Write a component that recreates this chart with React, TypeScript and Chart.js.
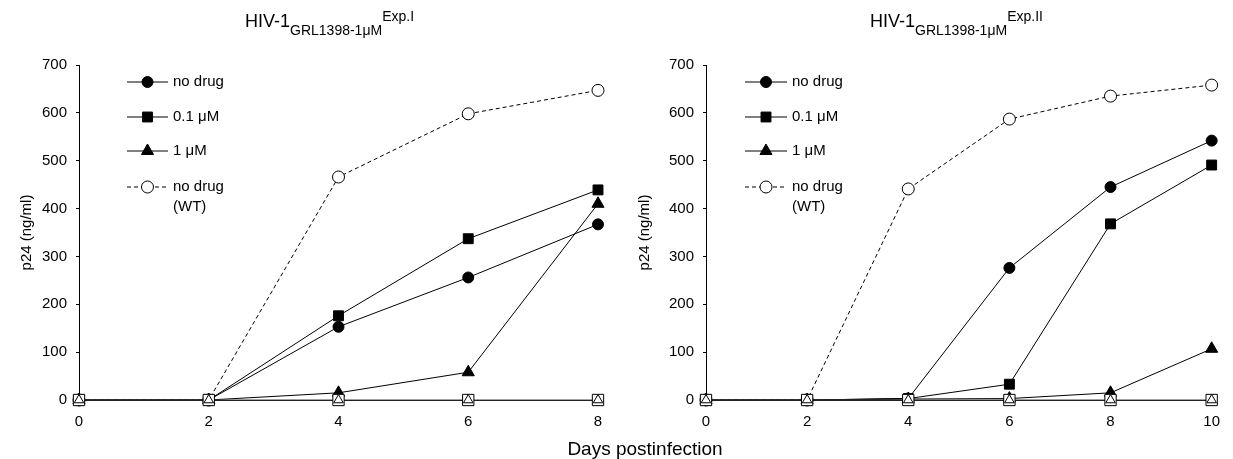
import React, { useEffect, useRef } from 'react';
import { Chart, registerables } from 'chart.js';

Chart.register(...registerables);

// ---------- data ----------
const DAYS_I = [0, 2, 4, 6, 8];
const NO_DRUG_I = [0, 0, 153, 256, 367];
const P01_I = [0, 0, 176, 337, 439];
const P1_I = [0, 0, 15, 58, 410];
const WT_I = [0, 0, 466, 598, 647];
const ZERO_I = [0, 0, 0, 0, 0];

const DAYS_II = [0, 2, 4, 6, 8, 10];
const NO_DRUG_II = [0, 0, 3, 276, 445, 542];
const P01_II = [0, 0, 3, 33, 368, 491];
const P1_II = [0, 0, 2, 3, 15, 107];
const WT_II = [0, 0, 441, 587, 635, 658];
const ZERO_II = [0, 0, 0, 0, 0, 0];

const LEGEND_LABELS = ['no drug', '0.1 μM', '1 μM', 'no drug|(WT)'];
const Y_MAX = 700;
const Y_STEP = 100;
const X_STEP = 2;

const FONT = '"Liberation Sans", Arial, Helvetica, sans-serif';

type Style = 'circle' | 'rect' | 'triangle';

function drawMarker(
  ctx: CanvasRenderingContext2D,
  style: Style,
  x: number,
  y: number,
  r: number,
  fill: string,
) {
  ctx.beginPath();
  if (style === 'circle') {
    ctx.arc(x, y, r, 0, Math.PI * 2);
  } else if (style === 'rect') {
    const s = r * Math.SQRT1_2;
    ctx.rect(x - s, y - s, 2 * s, 2 * s);
  } else {
    ctx.moveTo(x, y - r);
    ctx.lineTo(x + 0.866 * r, y + 0.5 * r);
    ctx.lineTo(x - 0.866 * r, y + 0.5 * r);
    ctx.closePath();
  }
  ctx.fillStyle = fill;
  ctx.fill();
  ctx.lineWidth = 1;
  ctx.strokeStyle = '#000';
  ctx.stroke();
}

const SERIES_STYLE: { style: Style; r: number; fill: string; dash: number[] }[] = [
  { style: 'circle', r: 5.5, fill: '#000', dash: [] },
  { style: 'rect', r: 7, fill: '#000', dash: [] },
  { style: 'triangle', r: 7, fill: '#000', dash: [] },
  { style: 'circle', r: 6, fill: '#fff', dash: [4, 3] },
];

interface Panel {
  days: number[];
  series: number[][];
  zero: number[];
  xMax: number;
  padLeft: number;
  yWidth: number;
  padRight: number;
  titleX: number;
  sup: string;
  legend: { x1: number; x2: number; tx: number };
  yTitleX: number;
  drawXTitle: boolean;
}

function makeOverlay(p: Panel) {
  return {
    id: 'overlay',
    afterDraw(chart: any) {
      const ctx: CanvasRenderingContext2D = chart.ctx;
      ctx.save();
      ctx.fillStyle = '#000';
      // title with subscript/superscript
      ctx.textBaseline = 'alphabetic';
      ctx.textAlign = 'left';
      let x = p.titleX;
      ctx.font = `18px ${FONT}`;
      ctx.fillText('HIV-1', x, 27);
      x += ctx.measureText('HIV-1').width;
      ctx.font = `14px ${FONT}`;
      ctx.fillText('GRL1398-1μM', x, 35);
      x += ctx.measureText('GRL1398-1μM').width;
      ctx.font = `14px ${FONT}`;
      ctx.fillText(p.sup, x, 21);

      // y axis title
      ctx.save();
      ctx.translate(p.yTitleX, (chart.chartArea.top + chart.chartArea.bottom) / 2);
      ctx.rotate(-Math.PI / 2);
      ctx.font = `15px ${FONT}`;
      ctx.textAlign = 'center';
      ctx.textBaseline = 'middle';
      ctx.fillText('p24 (ng/ml)', 0, 0);
      ctx.restore();

      // legend
      const rows = [82, 117, 151, 187];
      LEGEND_LABELS.forEach((lab, i) => {
        const st = SERIES_STYLE[i];
        const y = rows[i];
        ctx.beginPath();
        ctx.setLineDash(st.dash);
        ctx.lineWidth = 1;
        ctx.strokeStyle = '#000';
        ctx.moveTo(p.legend.x1, y);
        ctx.lineTo(p.legend.x2, y);
        ctx.stroke();
        ctx.setLineDash([]);
        drawMarker(ctx, st.style, (p.legend.x1 + p.legend.x2) / 2, y, st.r, st.fill);
        ctx.fillStyle = '#000';
        ctx.font = `15px ${FONT}`;
        ctx.textAlign = 'left';
        ctx.textBaseline = 'middle';
        lab.split('|').forEach((line, j) => {
          ctx.fillText(line, p.legend.tx, y + j * 20);
        });
      });

      if (p.drawXTitle) {
        ctx.font = `19px ${FONT}`;
        ctx.textAlign = 'center';
        ctx.textBaseline = 'alphabetic';
        ctx.fillStyle = '#000';
        ctx.fillText('Days postinfection', 645, 455);
      }
      ctx.restore();
    },
  };
}

function buildConfig(p: Panel): any {
  const pts = (vals: number[]) => p.days.map((d, i) => ({ x: d, y: vals[i] }));
  const datasets: any[] = [
    {
      label: 'open triangle',
      data: pts(p.zero),
      showLine: false,
      pointStyle: 'triangle',
      pointRadius: 5.5,
      pointBackgroundColor: '#fff',
      pointBorderColor: '#000',
      pointBorderWidth: 1,
      order: 0,
    },
    {
      label: 'open square',
      data: pts(p.zero),
      borderColor: '#444',
      borderWidth: 1,
      pointStyle: 'rect',
      pointRadius: 8,
      pointBackgroundColor: '#fff',
      pointBorderColor: '#000',
      pointBorderWidth: 1,
      order: 1,
    },
  ];
  p.series.forEach((vals, i) => {
    const st = SERIES_STYLE[i];
    datasets.push({
      label: LEGEND_LABELS[i],
      data: pts(vals),
      borderColor: '#000',
      borderWidth: 1,
      borderDash: st.dash,
      pointStyle: st.style,
      pointRadius: st.r,
      pointBackgroundColor: st.fill,
      pointBorderColor: '#000',
      pointBorderWidth: 1,
      order: 2 + i,
    });
  });
  datasets.forEach((d) => {
    d.fill = false;
    d.tension = 0;
    d.clip = false;
    d.pointHoverRadius = d.pointRadius;
  });

  return {
    type: 'line',
    data: { datasets },
    options: {
      responsive: false,
      animation: false,
      devicePixelRatio: 1,
      events: [],
      layout: { padding: { left: p.padLeft, right: p.padRight, top: 65, bottom: 0 } },
      plugins: { legend: { display: false }, tooltip: { enabled: false }, title: { display: false } },
      scales: {
        x: {
          type: 'linear',
          min: 0,
          max: p.xMax,
          afterFit: (s: any) => {
            s.height = 59;
          },
          ticks: {
            stepSize: X_STEP,
            color: '#000',
            font: { family: FONT, size: 15 },
            padding: 13,
            maxRotation: 0,
          },
          grid: { drawOnChartArea: false, drawTicks: false, color: '#000' },
          border: { display: true, color: '#000', width: 1 },
        },
        y: {
          type: 'linear',
          min: 0,
          max: Y_MAX,
          afterFit: (s: any) => {
            s.width = p.yWidth;
          },
          ticks: {
            stepSize: Y_STEP,
            color: '#000',
            font: { family: FONT, size: 15 },
            padding: 9,
          },
          grid: { drawOnChartArea: false, drawTicks: true, tickLength: 3, color: '#000' },
          border: { display: true, color: '#000', width: 1 },
        },
      },
    },
    plugins: [makeOverlay(p)],
  };
}

const PANEL_I: Panel = {
  days: DAYS_I,
  series: [NO_DRUG_I, P01_I, P1_I, WT_I],
  zero: ZERO_I,
  xMax: 8,
  padLeft: 0,
  yWidth: 79,
  padRight: 1233 - 598,
  titleX: 245,
  sup: 'Exp.I',
  legend: { x1: 127, x2: 168, tx: 173 },
  yTitleX: 27,
  drawXTitle: true,
};

const PANEL_II: Panel = {
  days: DAYS_II,
  series: [NO_DRUG_II, P01_II, P1_II, WT_II],
  zero: ZERO_II,
  xMax: 10,
  padLeft: 646,
  yWidth: 60,
  padRight: 8,
  titleX: 870,
  sup: 'Exp.II',
  legend: { x1: 745, x2: 787, tx: 792 },
  yTitleX: 645,
  drawXTitle: false,
};

function ChartCanvas({ panel }: { panel: Panel }) {
  const ref = useRef<HTMLCanvasElement | null>(null);
  useEffect(() => {
    if (!ref.current) return;
    const chart = new Chart(ref.current, buildConfig(panel));
    return () => chart.destroy();
  }, [panel]);
  return (
    <canvas
      ref={ref}
      width={1233}
      height={459}
      style={{ position: 'absolute', left: 0, top: 0, width: 1233, height: 459 }}
    />
  );
}

export default function App() {
  return (
    <div
      style={{
        position: 'absolute',
        left: 0,
        top: 0,
        width: 1233,
        height: 459,
        background: '#fff',
        overflow: 'hidden',
      }}
    >
      <ChartCanvas panel={PANEL_I} />
      <ChartCanvas panel={PANEL_II} />
    </div>
  );
}
